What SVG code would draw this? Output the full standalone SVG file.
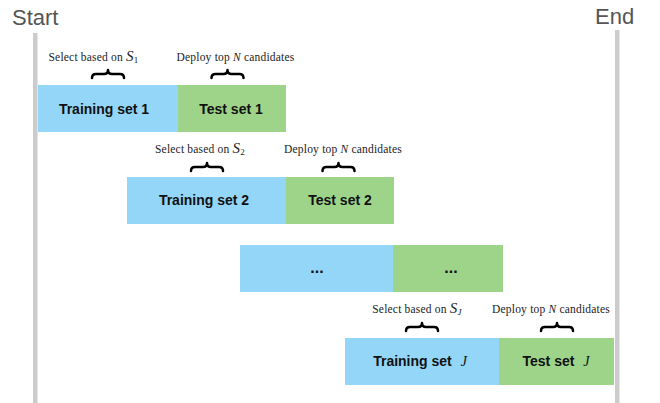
<svg xmlns="http://www.w3.org/2000/svg" width="660" height="403" viewBox="0 0 660 403">
<style>
.bar{fill:#cccccc}
.edge{font-family:"Liberation Sans",Arial,sans-serif;font-size:22px;fill:#555555}
.train{fill:#94D6F8}
.test{fill:#9DD489}
.lbl{font-family:"Liberation Sans",Arial,sans-serif;font-size:14px;font-weight:bold;fill:#111111;text-anchor:middle}
.dots{font-family:"Liberation Sans",Arial,sans-serif;font-size:16px;font-weight:bold;fill:#111111;text-anchor:middle}
.note{font-family:"Liberation Serif","Times New Roman",serif;font-size:11.5px;letter-spacing:0.2px;fill:#222222;text-anchor:middle}
.m{font-style:italic}
.mi{font-family:"Liberation Serif","Times New Roman",serif;font-style:italic;font-weight:normal}
.brace{fill:none;stroke:#000000;stroke-width:2.5;stroke-linecap:round;stroke-linejoin:round}
</style>
<defs>
<path id="br" class="brace" d="M-16,8 Q-16,4 -12,4 L-4,4 Q0,4 0,0 Q0,4 4,4 L12,4 Q16,4 16,8"/>
</defs>
<g id="start">
<text class="edge" x="12" y="25">Start</text>
<rect class="bar" x="33" y="33" width="4.5" height="370"/>
</g>
<g id="end">
<text class="edge" x="595" y="24">End</text>
<rect class="bar" x="615" y="30" width="4.5" height="373"/>
</g>
<g id="row1">
<rect class="train" x="38" y="85" width="140" height="47"/>
<rect class="test" x="178" y="85" width="108" height="47"/>
<text class="lbl" x="104" y="114">Training set 1</text>
<text class="lbl" x="231" y="114">Test set 1</text>
<text class="note" x="93.5" y="61">Select based on <tspan class="m" font-size="15">S</tspan><tspan font-size="9" dy="2">1</tspan></text>
<text class="note" x="235.5" y="61">Deploy top <tspan class="m">N</tspan> candidates</text>
<use href="#br" x="108" y="70"/>
<use href="#br" x="227.5" y="70"/>
</g>
<g id="row2">
<rect class="train" x="127" y="177" width="159" height="47"/>
<rect class="test" x="286" y="177" width="108" height="47"/>
<text class="lbl" x="204" y="205">Training set 2</text>
<text class="lbl" x="340" y="205">Test set 2</text>
<text class="note" x="200" y="153">Select based on <tspan class="m" font-size="15">S</tspan><tspan font-size="9" dy="2">2</tspan></text>
<text class="note" x="343" y="153">Deploy top <tspan class="m">N</tspan> candidates</text>
<use href="#br" x="207" y="163"/>
<use href="#br" x="338.5" y="163"/>
</g>
<g id="row3">
<rect class="train" x="240" y="245" width="153" height="47"/>
<rect class="test" x="393" y="245" width="110" height="47"/>
<text class="dots" x="317" y="273">...</text>
<text class="dots" x="451" y="273">...</text>
</g>
<g id="rowJ">
<rect class="train" x="345" y="338" width="154" height="47"/>
<rect class="test" x="499" y="338" width="115" height="47"/>
<text class="lbl" x="420" y="366">Training set <tspan class="mi" dx="5">J</tspan></text>
<text class="lbl" x="556" y="366">Test set <tspan class="mi" dx="5">J</tspan></text>
<text class="note" x="417" y="313">Select based on <tspan class="m" font-size="15">S</tspan><tspan class="m" font-size="9" dy="2">J</tspan></text>
<text class="note" x="551" y="313">Deploy top <tspan class="m">N</tspan> candidates</text>
<use href="#br" x="422" y="323"/>
<use href="#br" x="557" y="323"/>
</g>
<g id="connectors"></g>
</svg>
